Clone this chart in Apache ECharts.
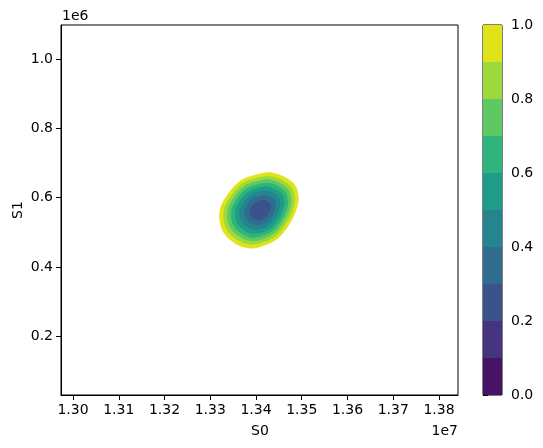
<!DOCTYPE html>
<html>
<head>
<meta charset="utf-8">
<style>
html, body { margin: 0; padding: 0; background: #fff; }
#chart { width: 543px; height: 448px; }
</style>
<script src="https://cdn.jsdelivr.net/npm/echarts@6/dist/echarts.min.js"></script>
</head>
<body>
<div id="chart"></div>
<script>
// S0 is kept in units of 1e7, S1 in units of 1e6 (offset labels drawn separately)
var xTicks = [1.30, 1.31, 1.32, 1.33, 1.34, 1.35, 1.36, 1.37, 1.38];
var yTicks = [0.2, 0.4, 0.6, 0.8, 1.0];
var cbTicks = [0.0, 0.2, 0.4, 0.6, 0.8, 1.0];

// contourf levels and band colours (viridis)
var bandEdges = [0.0, 0.1, 0.2, 0.3, 0.4, 0.5, 0.6, 0.7, 0.8, 0.9, 1.0];
var bandColors = ['#471365', '#463480', '#3b528b', '#2f6c8e', '#25848e',
                  '#1e9c89', '#2fb47c', '#5ec962', '#9bd93c', '#dfe318'];

// level of each contour line, outermost first
var contourLevels = [1.0, 0.9, 0.8, 0.7, 0.6, 0.5, 0.4, 0.3];

// contour lines, [S0, S1]
var c10 = [[1.34376,0.6712],[1.34814,0.6424],[1.34924,0.6040],[1.34889,0.5703],[1.34742,0.5270],[1.34486,0.4838],[1.34122,0.4598],
           [1.33829,0.4549],[1.33500,0.4722],[1.33260,0.5077],[1.33209,0.5608],[1.33356,0.6040],[1.33647,0.6473],[1.34013,0.6663]];
var c09 = [[1.34350,0.6605],[1.34744,0.6346],[1.34842,0.6001],[1.34811,0.5697],[1.34679,0.5308],[1.34448,0.4918],[1.34121,0.4703],
           [1.33857,0.4659],[1.33561,0.4814],[1.33344,0.5134],[1.33299,0.5611],[1.33431,0.6001],[1.33693,0.6390],[1.34022,0.6561]];
var c08 = [[1.34325,0.6509],[1.34680,0.6276],[1.34769,0.5965],[1.34740,0.5692],[1.34621,0.5341],[1.34414,0.4991],[1.34119,0.4797],
           [1.33882,0.4757],[1.33616,0.4898],[1.33421,0.5185],[1.33380,0.5615],[1.33499,0.5965],[1.33735,0.6315],[1.34031,0.6470]];
var c07 = [[1.34301,0.6413],[1.34616,0.6206],[1.34695,0.5930],[1.34670,0.5687],[1.34564,0.5375],[1.34380,0.5064],[1.34118,0.4891],
           [1.33907,0.4856],[1.33670,0.4981],[1.33497,0.5236],[1.33461,0.5618],[1.33566,0.5930],[1.33776,0.6241],[1.34039,0.6378]];
var c06 = [[1.34274,0.6307],[1.34546,0.6128],[1.34614,0.5890],[1.34592,0.5681],[1.34501,0.5413],[1.34342,0.5144],[1.34117,0.4996],
           [1.33935,0.4966],[1.33731,0.5073],[1.33582,0.5293],[1.33550,0.5622],[1.33641,0.5890],[1.33822,0.6158],[1.34049,0.6276]];
var c05 = [[1.34244,0.6189],[1.34468,0.6042],[1.34524,0.5847],[1.34506,0.5674],[1.34431,0.5454],[1.34300,0.5233],[1.34115,0.5111],
           [1.33965,0.5086],[1.33798,0.5174],[1.33675,0.5355],[1.33649,0.5626],[1.33724,0.5847],[1.33873,0.6067],[1.34059,0.6164]];
var c04 = [[1.34212,0.6061],[1.34383,0.5949],[1.34426,0.5799],[1.34412,0.5668],[1.34355,0.5499],[1.34255,0.5330],[1.34113,0.5237],
           [1.33999,0.5218],[1.33870,0.5285],[1.33777,0.5423],[1.33757,0.5630],[1.33814,0.5799],[1.33928,0.5968],[1.34070,0.6042]];
var c03 = [[1.34177,0.5922],[1.34291,0.5848],[1.34319,0.5748],[1.34310,0.5660],[1.34272,0.5548],[1.34206,0.5435],[1.34111,0.5373],
           [1.34035,0.5360],[1.33949,0.5405],[1.33887,0.5497],[1.33874,0.5635],[1.33912,0.5748],[1.33987,0.5860],[1.34083,0.5910]];
var contourLines = [c10, c09, c08, c07, c06, c05, c04, c03];

var FONT = 'DejaVu Sans';
var chart = echarts.init(document.getElementById('chart'));

function levelColor(lv) {
  var i = Math.round(lv * 10) - 1;
  return bandColors[i];
}

var option = {
  animation: false,
  grid: [
    { left: 61, top: 25, width: 397, height: 370, show: true, borderColor: '#000', borderWidth: 1 },
    { left: 483, top: 25, width: 19, height: 370, show: true, borderColor: '#000', borderWidth: 1 }
  ],
  xAxis: [
    {
      type: 'value', gridIndex: 0, min: 1.29737, max: 1.38416,
      splitLine: { show: false },
      axisLine: { show: true, lineStyle: { color: '#000', width: 1 } },
      axisTick: { show: true, length: 5, lineStyle: { color: '#000' }, customValues: xTicks },
      axisLabel: {
        customValues: xTicks, color: '#000', fontSize: 14, fontFamily: FONT, margin: 8,
        formatter: function (v) { return v.toFixed(2); }
      }
    },
    { type: 'value', gridIndex: 1, min: 0, max: 1, show: false }
  ],
  yAxis: [
    {
      type: 'value', gridIndex: 0, min: 0.0307, max: 1.098,
      splitLine: { show: false },
      axisLine: { show: true, lineStyle: { color: '#000', width: 1 } },
      axisTick: { show: true, length: 5, lineStyle: { color: '#000' }, customValues: yTicks },
      axisLabel: {
        customValues: yTicks, color: '#000', fontSize: 14, fontFamily: FONT, margin: 8,
        formatter: function (v) { return v.toFixed(1); }
      }
    },
    {
      type: 'value', gridIndex: 1, min: 0, max: 1, position: 'right',
      splitLine: { show: false },
      axisLine: { show: false },
      axisTick: { show: true, length: 5, lineStyle: { color: '#000' }, customValues: cbTicks },
      axisLabel: {
        customValues: cbTicks, color: '#000', fontSize: 14, fontFamily: FONT, margin: 9,
        formatter: function (v) { return v.toFixed(1); }
      }
    }
  ],
  series: [
    {
      // filled contours, outer level first so inner ones sit on top
      type: 'custom',
      xAxisIndex: 0, yAxisIndex: 0,
      clip: true,
      data: contourLevels.map(function (lv, i) {
        return [contourLines[i][0][0], contourLines[i][0][1], lv];
      }),
      renderItem: function (params, api) {
        var lv = contourLevels[params.dataIndex];
        var pts = contourLines[params.dataIndex].map(function (p) { return api.coord(p); });
        return {
          type: 'polygon',
          shape: { points: pts, smooth: 0.35 },
          style: { fill: levelColor(lv), stroke: levelColor(lv), lineWidth: 0.5 }
        };
      }
    },
    {
      // colorbar
      type: 'custom',
      xAxisIndex: 1, yAxisIndex: 1,
      data: bandColors.map(function (c, i) { return [0, bandEdges[i], bandEdges[i + 1]]; }),
      renderItem: function (params, api) {
        var lo = api.coord([0, api.value(1)]);
        var hi = api.coord([1, api.value(2)]);
        return {
          type: 'rect',
          shape: { x: lo[0], y: hi[1], width: hi[0] - lo[0], height: lo[1] - hi[1] },
          style: { fill: bandColors[params.dataIndex] }
        };
      }
    }
  ],
  graphic: [
    { type: 'text', x: 260, y: 431, style: { text: 'S0', font: '14px ' + FONT, fill: '#000', textAlign: 'center', textVerticalAlign: 'middle' } },
    { type: 'text', x: 458, y: 431, style: { text: '1e7', font: '14px ' + FONT, fill: '#000', textAlign: 'right', textVerticalAlign: 'middle' } },
    { type: 'text', x: 18, y: 210, rotation: Math.PI / 2, style: { text: 'S1', font: '14px ' + FONT, fill: '#000', textAlign: 'center', textVerticalAlign: 'middle' } },
    { type: 'text', x: 62, y: 16, style: { text: '1e6', font: '14px ' + FONT, fill: '#000', textAlign: 'left', textVerticalAlign: 'middle' } }
  ]
};

chart.setOption(option);
</script>
</body>
</html>
